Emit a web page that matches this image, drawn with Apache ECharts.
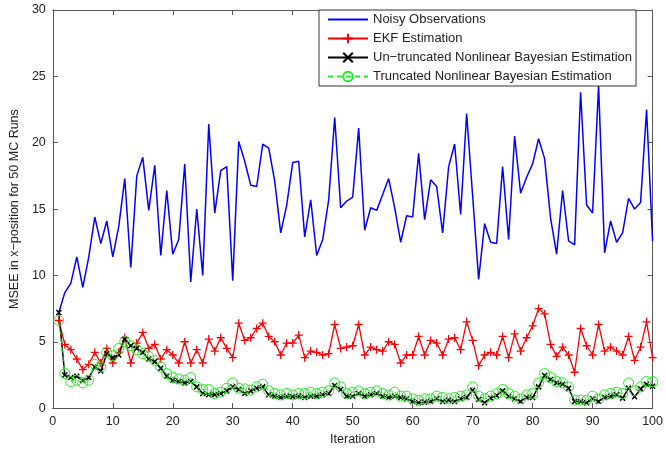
<!DOCTYPE html>
<html><head><meta charset="utf-8">
<script src="https://cdn.jsdelivr.net/npm/echarts@6/dist/echarts.min.js"></script>
<style>html,body{margin:0;padding:0;background:#fff}#c{width:666px;height:451px}</style>
</head><body><div id="c"></div>
<script>
const iterations = Array.from({length:100},(_,k)=>k+1);
const noisy = [7.2,8.7,9.4,11.4,9.1,11.4,14.4,12.4,14.1,11.4,13.7,17.3,10.6,17.5,18.9,14.9,18.3,11.5,16.4,11.6,
12.7,18.4,9.5,15.0,10.0,21.4,14.7,17.9,18.2,9.6,20.1,18.6,16.8,16.7,19.9,19.6,17.1,13.2,15.3,18.5,
18.6,12.9,15.7,11.5,12.7,15.7,21.9,15.1,15.6,15.9,21.1,13.4,15.1,14.9,16.1,17.3,15.1,12.5,14.5,14.4,
19.2,14.2,17.2,16.7,13.2,18.2,19.9,14.6,22.2,16.0,9.7,13.9,12.5,12.4,18.2,12.7,20.5,16.2,17.4,18.4,
20.3,18.8,14.3,11.6,16.4,12.6,12.3,23.8,15.3,14.7,24.3,11.7,14.1,12.5,13.2,15.8,15.0,15.5,22.5,12.6];
const ekf = [6.6,4.8,4.4,3.7,2.9,3.3,4.2,3.4,4.5,3.4,4.2,5.3,3.4,4.9,5.7,4.5,4.8,3.7,4.4,4.0,
3.4,5.0,3.4,4.4,3.4,5.2,4.3,5.3,4.5,3.8,6.4,5.1,5.3,6.0,6.4,5.4,5.0,4.0,4.9,4.9,
5.5,3.8,4.3,4.2,4.0,4.1,6.3,4.5,4.6,4.7,6.3,4.0,4.6,4.4,4.3,5.0,4.8,3.4,4.0,4.0,
5.4,4.0,5.1,4.9,4.0,5.2,5.3,4.4,6.5,5.1,3.2,4.0,4.2,4.0,5.4,3.8,5.6,4.3,5.3,6.2,
7.5,7.1,4.8,3.9,4.6,4.0,2.7,6.0,4.7,4.0,6.3,4.3,4.6,4.3,4.0,5.4,3.6,4.6,6.5,3.8];
const untruncated = [7.2,2.5,2.3,2.4,2.1,2.3,3.1,2.8,4.1,3.8,4.0,5.2,4.7,4.5,4.2,3.7,3.5,3.0,2.4,2.1,
2.0,1.9,2.0,1.6,1.1,1.0,1.0,1.1,1.3,1.6,1.4,1.1,1.3,1.5,1.6,1.0,0.9,0.8,0.9,0.85,
0.9,0.8,0.9,0.9,1.0,1.1,1.7,1.4,0.9,0.9,1.1,0.9,1.0,1.1,0.9,0.8,0.9,0.8,0.7,0.5,
0.4,0.45,0.5,0.7,0.5,0.6,0.5,0.7,0.8,1.35,0.65,0.4,0.75,0.95,1.3,0.9,0.7,0.5,0.8,0.8,
1.6,2.45,2.15,1.9,1.8,1.5,0.5,0.5,0.4,0.7,0.5,0.8,0.9,1.0,0.75,1.5,0.85,1.45,1.8,1.65];
const truncated = [6.6,2.6,2.0,2.1,1.9,2.1,3.3,3.1,4.2,3.95,4.5,5.0,4.7,4.4,4.1,3.9,3.6,3.1,2.6,2.3,
2.2,2.1,2.3,1.6,1.4,1.4,1.1,1.2,1.5,1.9,1.5,1.45,1.35,1.6,1.8,1.3,1.1,1.0,1.1,1.0,
1.1,1.1,1.2,1.1,1.2,1.3,1.9,1.6,1.1,1.2,1.3,1.1,1.2,1.3,1.1,1.0,1.2,0.9,0.9,0.7,
0.6,0.7,0.7,0.9,0.8,0.7,0.8,0.9,1.0,1.6,0.9,0.7,0.9,1.1,1.4,1.1,0.9,0.7,1.0,1.1,
1.9,2.6,2.3,2.0,1.9,1.6,0.6,0.6,0.6,0.9,0.7,1.0,1.1,1.2,1.1,1.9,1.3,1.6,2.0,2.0];
const names = ['Noisy Observations','EKF Estimation','Un\u2212truncated Nonlinear Bayesian Estimation','Truncated Nonlinear Bayesian Estimation'];

const pair = arr => iterations.map((x,k)=>[x,arr[k]]);
const FONT = 'Liberation Sans, Arial, sans-serif';
const axisCol = '#555';
const chart = echarts.init(document.getElementById('c'), null, {renderer:'canvas'});
const baseAxis = {
  axisLine:{onZero:false,lineStyle:{color:axisCol,width:1}},
  axisTick:{inside:true,length:5,lineStyle:{color:axisCol}},
  splitLine:{show:false}
};
chart.setOption({
  animation:false,
  backgroundColor:'#fff',
  grid:{left:47,right:11,top:10,bottom:42,containLabel:false},
  legend:{
    orient:'vertical', left:319, top:10,
    data:[
      {name:names[0], itemStyle:{color:'rgba(0,0,0,0)',borderWidth:0}},
      {name:names[1]},{name:names[2]},{name:names[3]}
    ],
    backgroundColor:'#fff', borderColor:'#333', borderWidth:1,
    padding:[3,4,3,8], itemGap:6, itemWidth:40, itemHeight:12,
    textStyle:{fontFamily:FONT,fontSize:13,lineHeight:13,color:'#222'}
  },
  xAxis:[
    Object.assign({},baseAxis,{type:'value',min:0,max:100,interval:10,position:'bottom',
      name:'Iteration',nameLocation:'middle',nameGap:23,
      nameTextStyle:{fontFamily:FONT,fontSize:12.5,color:'#222'},
      axisLabel:{fontFamily:FONT,fontSize:12.5,color:'#222',margin:7}}),
    Object.assign({},baseAxis,{type:'value',min:0,max:100,interval:10,position:'top',axisLabel:{show:false}})
  ],
  yAxis:[
    Object.assign({},baseAxis,{type:'value',min:0,max:30,interval:5,position:'left',
      name:'MSEE in x\u2212position for 50 MC Runs',nameLocation:'middle',nameGap:26,
      nameTextStyle:{fontFamily:FONT,fontSize:12.5,color:'#222'},
      axisLabel:{fontFamily:FONT,fontSize:12.5,color:'#222',margin:7}}),
    Object.assign({},baseAxis,{type:'value',min:0,max:30,interval:5,position:'right',axisLabel:{show:false}})
  ],
  series:[
    {name:names[0],type:'line',data:pair(noisy),symbol:'none',
      lineStyle:{color:'#0000ff',width:1.5},itemStyle:{color:'#0000ff'}},
    {name:names[1],type:'line',data:pair(ekf),symbol:'path://M0,-1L0,1M-1,0L1,0',symbolSize:8,
      lineStyle:{color:'#ff0000',width:1.3},itemStyle:{color:'#ff0000',borderColor:'#ff0000',borderWidth:1.3}},
    {name:names[2],type:'line',data:pair(untruncated),symbol:'path://M-1,-1L1,1M-1,1L1,-1',symbolSize:5,
      lineStyle:{color:'#000',width:1.5},itemStyle:{color:'#000',borderColor:'#000',borderWidth:1.5}},
    {name:names[3],type:'line',data:pair(truncated),symbol:'circle',symbolSize:10,
      lineStyle:{color:'#22ee22',width:1,type:[5,4]},
      itemStyle:{color:'rgba(0,0,0,0)',borderColor:'#22ee22',borderWidth:1}}
  ]
});
</script></body></html>
